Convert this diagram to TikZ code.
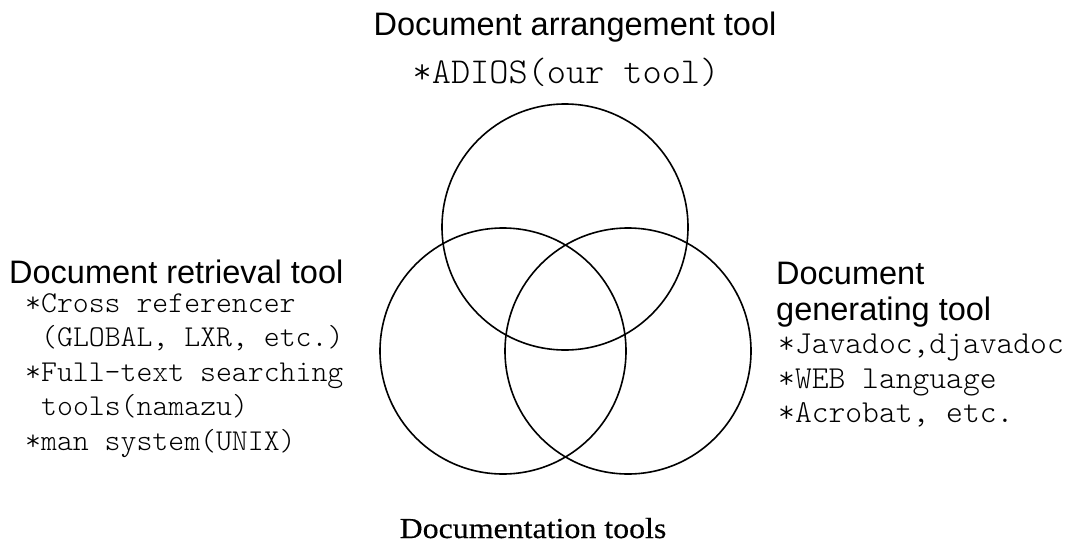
\documentclass[tikz,border=0pt]{standalone}
\usepackage{fontspec}
\setsansfont{Liberation Sans}
\newfontfamily\itemfont{Latin Modern Mono Light}
\newfontfamily\titlefont[FakeStretch=1.1,FakeBold=0.4]{Liberation Serif}
\begin{document}
\begin{tikzpicture}[x=1pt,y=-1pt,
  venn/.style={draw, line width=1.6pt, circle, minimum size=246pt, inner sep=0pt},
  heading/.style={font=\sffamily\fontsize{32.5}{36}\selectfont, inner sep=0pt, anchor=base west},
  leftitem/.style={font=\itemfont\fontsize{30.3}{34}\selectfont, inner sep=0pt, anchor=base west},
  rightitem/.style={font=\itemfont\fontsize{32}{36}\selectfont, inner sep=0pt, anchor=base west},
]
\useasboundingbox (0,0) rectangle (1067,549);

% the three overlapping sets
\node[venn] (arr) at (565,227) {};
\node[venn] (ret) at (503,351) {};
\node[venn] (gen) at (628,351) {};

% arrangement tools (top)
\node[heading, anchor=base] (arrhead) at (575,35) {Document arrangement tool};
\node[font=\itemfont\fontsize{36.5}{40}\selectfont, inner sep=0pt, anchor=base] (arr1) at (566,83) {*ADIOS(our tool)};

% retrieval tools (left)
\node[heading] (rethead) at (9,283) {Document retrieval tool};
\node[leftitem] (ret1) at (25,312) {*Cross referencer};
\node[leftitem] (ret2) at (41,346) {(GLOBAL, LXR, etc.)};
\node[leftitem] (ret3) at (25,381) {*Full-text searching};
\node[leftitem] (ret4) at (41,415) {tools(namazu)};
\node[leftitem] (ret5) at (25,450) {*man system(UNIX)};

% generating tools (right)
\node[heading] (genhead1) at (776,284) {Document};
\node[heading] (genhead2) at (776,320) {generating tool};
\node[rightitem] (gen1) at (778,353) {*Javadoc,djavadoc};
\node[rightitem] (gen2) at (778,388) {*WEB language};
\node[rightitem] (gen3) at (778,422) {*Acrobat, etc.};

% caption
\node[font=\titlefont\fontsize{29}{33}\selectfont, inner sep=0pt, anchor=base] (title) at (533,538) {Documentation tools};
\end{tikzpicture}
\end{document}
